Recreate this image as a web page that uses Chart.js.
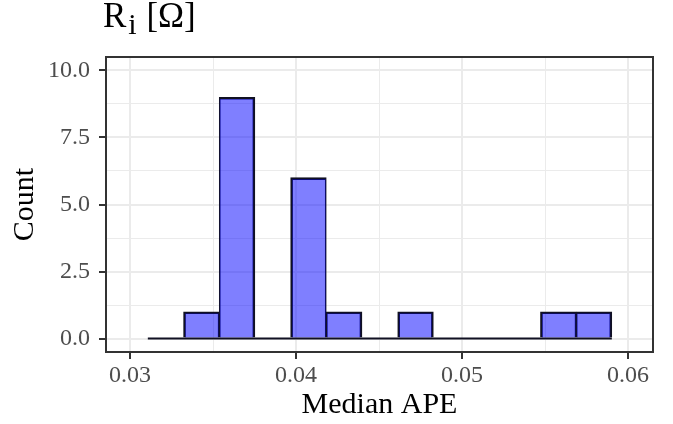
<!DOCTYPE html>
<html>
<head>
<meta charset="utf-8">
<script src="https://cdn.jsdelivr.net/npm/chart.js@4/dist/chart.umd.min.js"></script>
<style>
  html, body { margin: 0; padding: 0; background: #fff; }
  #wrap { position: relative; width: 673px; height: 424px; }
  #title {
    position: absolute; left: 103px; top: -2px;
    font-family: "Liberation Serif", serif; font-size: 35px; line-height: 36px;
    color: #000; white-space: nowrap;
  }
  #title sub { font-size: 30px; vertical-align: -7px; line-height: 0; margin-left: 2px; margin-right: 1px; }
</style>
</head>
<body>
<div id="wrap">
  <canvas id="chart" width="673" height="424"></canvas>
  <div id="title">R<sub>i</sub> [Ω]</div>
</div>
<script>
// Histogram of median APE (bin edges)
const binEdges = [0.03107, 0.03322, 0.03537, 0.03752, 0.03967, 0.04182, 0.04397,
                  0.04612, 0.04827, 0.05042, 0.05257, 0.05472, 0.05687, 0.05902];
const counts = [0, 1, 9, 0, 6, 1, 0, 1, 0, 0, 0, 1, 1];

const xTicks = [0.03, 0.035, 0.04, 0.045, 0.05, 0.055, 0.06];
const xLabels = ['0.03', '', '0.04', '', '0.05', '', '0.06'];
const yTicks = [0, 1.25, 2.5, 3.75, 5, 6.25, 7.5, 8.75, 10];
const yLabels = ['0.0', '', '2.5', '', '5.0', '', '7.5', '', '10.0'];

const barData = counts.map((c, i) => ({ x: (binEdges[i] + binEdges[i + 1]) / 2, y: c }));
const baseLine = [{ x: binEdges[0], y: 0 }, { x: binEdges[binEdges.length - 1], y: 0 }];

const serif = '"Liberation Serif", "Times New Roman", serif';

function isMajor(list, labels, c) {
  if (!c || !c.tick) return true;
  const i = list.findIndex(t => Math.abs(t - c.tick.value) < 1e-9);
  return i >= 0 && labels[i] !== '';
}

function labelFor(list, labels, v) {
  const i = list.findIndex(t => Math.abs(t - v) < 1e-9);
  return i >= 0 ? labels[i] : '';
}

// panel border like theme_bw
const panelBorder = {
  id: 'panelBorder',
  afterDatasetsDraw(chart) {
    const { ctx, chartArea: a } = chart;
    ctx.save();
    ctx.strokeStyle = '#333333';
    ctx.lineWidth = 2;
    ctx.strokeRect(a.left, a.top, a.right - a.left, a.bottom - a.top);
    ctx.restore();
  }
};

new Chart(document.getElementById('chart'), {
  type: 'bar',
  data: {
    datasets: [
      {
        type: 'line',
        data: baseLine,
        borderColor: '#111122',
        borderWidth: 2,
        pointRadius: 0,
        order: 0
      },
      {
        data: barData,
        backgroundColor: 'rgba(0,0,255,0.5)',
        borderColor: '#111122',
        borderSkipped: false,
        borderWidth: ctx => {
          const i = ctx.dataIndex;
          return {
            top: 2, bottom: 0,
            left: counts[i - 1] > 0 ? 1 : 2,
            right: counts[i + 1] > 0 ? 1 : 2
          };
        },
        barPercentage: 1,
        categoryPercentage: 1,
        order: 1
      }
    ]
  },
  options: {
    responsive: false,
    animation: false,
    layout: { padding: { top: 57, right: 20, left: 0, bottom: 0 } },
    plugins: { legend: { display: false }, tooltip: { enabled: false } },
    scales: {
      x: {
        type: 'linear',
        offset: false,
        min: 0.02855,
        max: 0.0615,
        afterBuildTicks: s => { s.ticks = xTicks.map(v => ({ value: v })); },
        afterFit: s => { s.height = 72; },
        border: { display: false },
        grid: {
          offset: false,
          color: '#EBEBEB',
          lineWidth: c => isMajor(xTicks, xLabels, c) ? 2 : 1,
          tickColor: c => isMajor(xTicks, xLabels, c) ? '#333333' : 'rgba(0,0,0,0)',
          tickWidth: 2,
          tickLength: 7
        },
        ticks: {
          autoSkip: false,
          maxRotation: 0,
          padding: 2,
          color: '#4D4D4D',
          font: { family: serif, size: 24 },
          callback: v => labelFor(xTicks, xLabels, v)
        },
        title: {
          display: true,
          text: 'Median APE',
          color: '#000',
          font: { family: serif, size: 30 },
          padding: { top: 0, bottom: 1 }
        }
      },
      y: {
        min: -0.5,
        max: 10.5,
        afterBuildTicks: s => { s.ticks = yTicks.map(v => ({ value: v })); },
        afterFit: s => { s.width = 106; },
        border: { display: false },
        grid: {
          color: '#EBEBEB',
          lineWidth: c => isMajor(yTicks, yLabels, c) ? 2 : 1,
          tickColor: c => isMajor(yTicks, yLabels, c) ? '#333333' : 'rgba(0,0,0,0)',
          tickWidth: 2,
          tickLength: 7
        },
        ticks: {
          autoSkip: false,
          padding: 9,
          color: '#4D4D4D',
          font: { family: serif, size: 24 },
          callback: v => labelFor(yTicks, yLabels, v)
        },
        title: {
          display: true,
          text: 'Count',
          color: '#000',
          font: { family: serif, size: 30 },
          padding: { top: 7, bottom: 0 }
        }
      }
    }
  },
  plugins: [panelBorder]
});
</script>
</body>
</html>
